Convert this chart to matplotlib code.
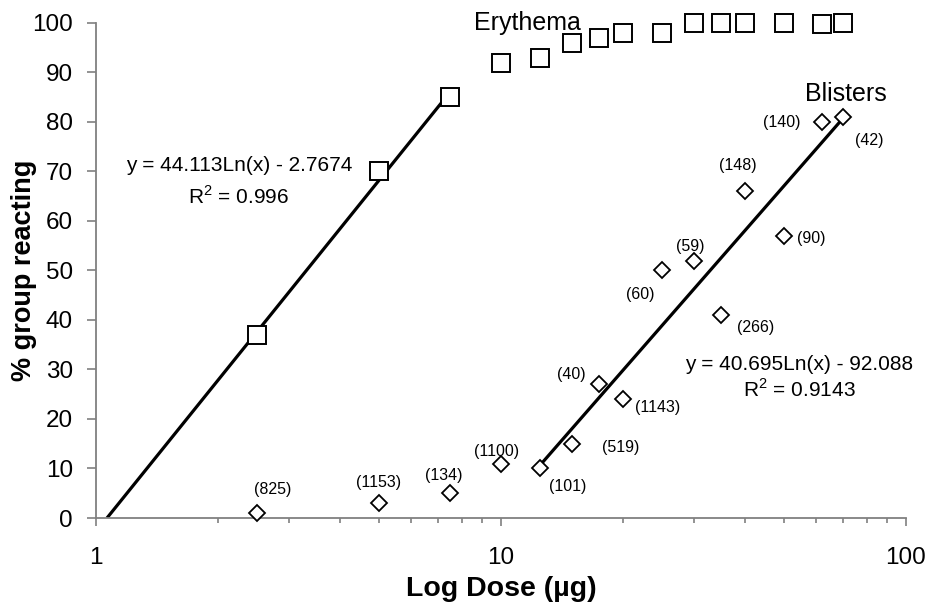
import numpy as np
import matplotlib
matplotlib.use("Agg")
import matplotlib.pyplot as plt

plt.rcParams['font.family'] = ['Liberation Sans', 'DejaVu Sans']
plt.rcParams['mathtext.fontset'] = 'custom'
plt.rcParams['mathtext.rm'] = 'Liberation Sans'

# ---- data ----
erythema_dose = [2.5, 5, 7.5, 10, 12.5, 15, 17.5, 20, 25, 30, 35, 40, 50, 62, 70]
erythema_pct = [37, 70, 85, 92, 93, 96, 97, 98, 98, 100, 100, 100, 100, 99.7, 100]

blister_dose = [2.5, 5, 7.5, 10, 12.5, 15, 17.5, 20, 25, 30, 35, 40, 50, 62, 70]
blister_pct = [1, 3, 5, 11, 10, 15, 27, 24, 50, 52, 41, 66, 57, 80, 81]
blister_n = ["(825)", "(1153)", "(134)", "(1100)", "(101)", "(519)", "(40)", "(1143)",
             "(60)", "(59)", "(266)", "(148)", "(90)", "(140)", "(42)"]

# log trend line coefficients (slope, intercept) and fitted dose range
ery_fit = (44.113, -2.7674)
ery_fit_range = (np.exp(2.7674 / 44.113), 7.5)
bli_fit = (40.695, -92.088)
bli_fit_range = (12.5, 70)

yticks = list(range(0, 101, 10))
xticks = [1, 10, 100]

# label offsets in pixels (style)
label_offsets = [(16, 24), (0, 21), (-7, 18), (-4, 12), (27, -18), (48, -4), (-28, 10),
                 (35, -8), (-22, -24), (-4, 14), (34, -12), (-7, 26), (27, -3), (-40, -1),
                 (26, -23)]

fig = plt.figure(figsize=(9.29, 6.05), dpi=100)
ax = fig.add_axes([0.1033, 0.1438, 0.8719, 0.8182])
ax.set_xscale('log')
ax.set_xlim(1, 100)
ax.set_ylim(0, 100)

# trend lines
for (a, b), (x0, x1) in [(ery_fit, ery_fit_range), (bli_fit, bli_fit_range)]:
    xs = np.geomspace(x0, x1, 100)
    ax.plot(xs, a * np.log(xs) + b, color='black', lw=2.3, zorder=2, solid_capstyle='butt')

ax.plot(erythema_dose, erythema_pct, ls='none', marker='s', ms=12.3, mfc='white',
        mec='black', mew=1.4, clip_on=False, zorder=3)
ax.plot(blister_dose, blister_pct, ls='none', marker='D', ms=8.6, mfc='white',
        mec='black', mew=1.3, clip_on=False, zorder=3)

for x, y, s, off in zip(blister_dose, blister_pct, blister_n, label_offsets):
    ax.annotate(s, (x, y), xytext=off, textcoords='offset pixels', ha='center',
                va='center', fontsize=11.5, zorder=4)

ax.text(11.64, 100.06, "Erythema", ha='center', va='center', fontsize=18, clip_on=False)
ax.text(71.1, 85.66, "Blisters", ha='center', va='center', fontsize=18)
ax.text(2.253, 71.17, "y = 44.113Ln(x) - 2.7674", ha='center', va='center', fontsize=15)
ax.text(2.253, 64.9, "R$^2$ = 0.996", ha='center', va='center', fontsize=15)
ax.text(54.6, 31.1, "y = 40.695Ln(x) - 92.088", ha='center', va='center', fontsize=15)
ax.text(54.7, 26.0, "R$^2$ = 0.9143", ha='center', va='center', fontsize=15)

ax.set_yticks(yticks)
ax.set_yticklabels([str(v) for v in yticks])
ax.set_xticks(xticks)
ax.set_xticklabels([str(v) for v in xticks])

for side in ['top', 'right']:
    ax.spines[side].set_visible(False)
for side in ['left', 'bottom']:
    ax.spines[side].set_color('#808080')
    ax.spines[side].set_linewidth(1.3)

ax.tick_params(axis='y', which='major', length=6.5, width=1.2, color='#808080',
               labelsize=17.5, pad=10)
ax.tick_params(axis='x', which='major', length=6, width=1.2, color='#808080',
               labelsize=17.5, pad=15)
ax.tick_params(axis='x', which='minor', length=3.3, width=1.2, color='#808080',
               labelbottom=False)
ax.tick_params(axis='y', which='minor', left=False)

ax.set_xlabel("Log Dose (µg)", fontsize=20.5, fontweight='bold', labelpad=5)
ax.set_ylabel("% group reacting", fontsize=19.5, fontweight='bold')
ax.yaxis.set_label_coords(-0.073, 0.5)

fig.savefig("out.png", dpi=100)
